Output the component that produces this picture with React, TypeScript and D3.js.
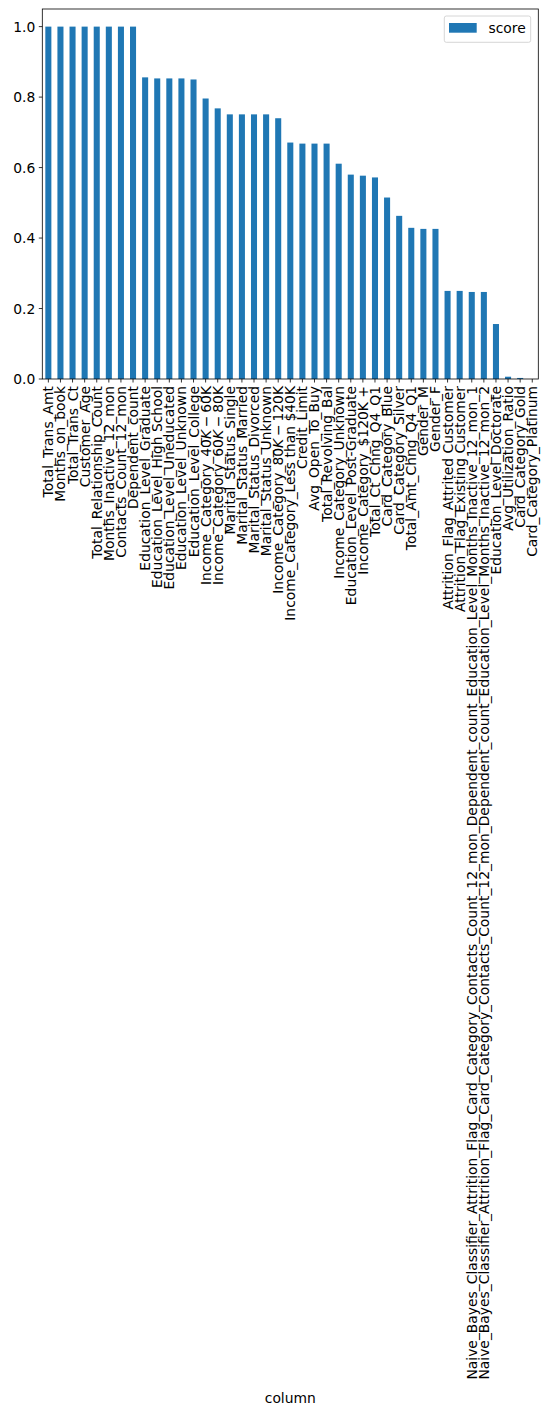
import React from "react";
import * as d3 from "d3";

const categories: string[] = [
  "Total_Trans_Amt",
  "Months_on_book",
  "Total_Trans_Ct",
  "Customer_Age",
  "Total_Relationship_Count",
  "Months_Inactive_12_mon",
  "Contacts_Count_12_mon",
  "Dependent_count",
  "Education_Level_Graduate",
  "Education_Level_High School",
  "Education_Level_Uneducated",
  "Education_Level_Unknown",
  "Education_Level_College",
  "Income_Category_$40K - $60K",
  "Income_Category_$60K - $80K",
  "Marital_Status_Single",
  "Marital_Status_Married",
  "Marital_Status_Divorced",
  "Marital_Status_Unknown",
  "Income_Category_$80K - $120K",
  "Income_Category_Less than $40K",
  "Credit_Limit",
  "Avg_Open_To_Buy",
  "Total_Revolving_Bal",
  "Income_Category_Unknown",
  "Education_Level_Post-Graduate",
  "Income_Category_$120K +",
  "Total_Ct_Chng_Q4_Q1",
  "Card_Category_Blue",
  "Card_Category_Silver",
  "Total_Amt_Chng_Q4_Q1",
  "Gender_M",
  "Gender_F",
  "Attrition_Flag_Attrited Customer",
  "Attrition_Flag_Existing Customer",
  "Naive_Bayes_Classifier_Attrition_Flag_Card_Category_Contacts_Count_12_mon_Dependent_count_Education_Level_Months_Inactive_12_mon_1",
  "Naive_Bayes_Classifier_Attrition_Flag_Card_Category_Contacts_Count_12_mon_Dependent_count_Education_Level_Months_Inactive_12_mon_2",
  "Education_Level_Doctorate",
  "Avg_Utilization_Ratio",
  "Card_Category_Gold",
  "Card_Category_Platinum",
];

const scores: number[] = [
  1.0, 1.0, 1.0, 1.0, 1.0, 1.0, 1.0, 1.0,
  0.856, 0.853, 0.853, 0.853, 0.85,
  0.796, 0.768,
  0.751, 0.751, 0.751, 0.751, 0.74,
  0.671, 0.668, 0.668, 0.668,
  0.611, 0.58, 0.577, 0.572,
  0.515, 0.463, 0.429, 0.426, 0.426,
  0.25, 0.25, 0.247, 0.247,
  0.156, 0.0065, 0.003, 0.0,
];

const yTicks: number[] = [0, 0.2, 0.4, 0.6, 0.8, 1.0];
const seriesName = "score";
const xAxisTitle = "column";

const FONT = "'DejaVu Sans', sans-serif";
const FS = 13.89;
const BAR = "#1f77b4";

// render matplotlib mathtext-like labels: text between two $ is math
function renderLabel(label: string) {
  const first = label.indexOf("$");
  const second = first >= 0 ? label.indexOf("$", first + 1) : -1;
  if (first < 0 || second < 0) return label;
  const before = label.slice(0, first);
  const math = label.slice(first + 1, second);
  const after = label.slice(second + 1);
  const parts: React.ReactNode[] = [<tspan key="b">{before}</tspan>];
  let k = 0;
  const tokens = math.replace(/\s+/g, "").split("");
  tokens.forEach((ch) => {
    if (ch === "-") {
      parts.push(<tspan key={"m" + k++}>{"\u2009\u2212\u2009"}</tspan>);
    } else if (/[A-Za-z]/.test(ch)) {
      parts.push(
        <tspan key={"m" + k++} fontStyle="italic">
          {ch}
        </tspan>
      );
    } else {
      parts.push(<tspan key={"m" + k++}>{ch}</tspan>);
    }
  });
  parts.push(<tspan key="a">{(math.trim().endsWith("-") ? "" : "") + after}</tspan>);
  return parts;
}

export default function App() {
  const W = 548;
  const H = 1415;
  const left = 42.3;
  const right = 538.3;
  const top = 9;
  const bottom = 379;

  const x = d3
    .scaleLinear()
    .domain([-0.5, categories.length - 0.5])
    .range([left, right]);
  const y = d3.scaleLinear().domain([0, 1.05]).range([bottom, top]);
  const bw = x(0.25) - x(0);

  return (
    <svg
      width={W}
      height={H}
      style={{ position: "absolute", left: 0, top: 0, background: "#fff" }}
      fontFamily={FONT}
      fontSize={FS}
    >
      <rect x={0} y={0} width={W} height={H} fill="#fff" />
      {scores.map((v, i) => (
        <rect
          key={i}
          x={x(i) - bw}
          y={y(v)}
          width={bw * 2}
          height={Math.max(0, y(0) - y(v))}
          fill={BAR}
        />
      ))}
      {/* spines */}
      <rect
        x={left}
        y={top}
        width={right - left}
        height={bottom - top}
        fill="none"
        stroke="#000"
        strokeWidth={0.8}
      />
      {/* y ticks */}
      {yTicks.map((t) => (
        <g key={t}>
          <line x1={left - 3.5} x2={left} y1={y(t)} y2={y(t)} stroke="#000" strokeWidth={0.8} />
          <text x={left - 7} y={y(t)} textAnchor="end" dominantBaseline="central" fill="#000">
            {d3.format(".1f")(t)}
          </text>
        </g>
      ))}
      {/* x ticks and labels */}
      {categories.map((c, i) => (
        <g key={c + i}>
          <line x1={x(i)} x2={x(i)} y1={bottom} y2={bottom + 3.5} stroke="#000" strokeWidth={0.8} />
          <text
            transform={`translate(${x(i)},${bottom + 7}) rotate(-90)`}
            textAnchor="end"
            dominantBaseline="central"
            fill="#000"
          >
            {renderLabel(c)}
          </text>
        </g>
      ))}
      {/* x axis title */}
      <text x={(left + right) / 2} y={1403} textAnchor="middle" fill="#000">
        {xAxisTitle}
      </text>
      {/* legend */}
      <g>
        <rect
          x={444.3}
          y={16}
          width={86.4}
          height={26.3}
          rx={2}
          ry={2}
          fill="#fff"
          fillOpacity={0.8}
          stroke="#cccccc"
          strokeWidth={0.8}
        />
        <rect x={449} y={23} width={27.7} height={9.7} fill={BAR} />
        <text x={488.5} y={28} dominantBaseline="central" fill="#000">
          {seriesName}
        </text>
      </g>
    </svg>
  );
}
